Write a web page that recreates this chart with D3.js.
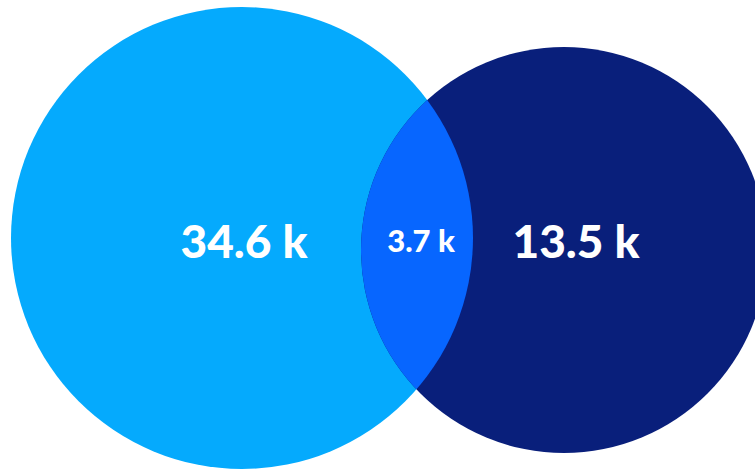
<!DOCTYPE html>
<html>
<head>
<meta charset="utf-8">
<script src="https://cdn.jsdelivr.net/npm/d3@7"></script>
<style>
  html, body { margin: 0; padding: 0; background: #fff; }
  svg { display: block; }
</style>
</head>
<body>
<div id="venn"></div>
<script>
// set sizes (thousands)
const setNames = ["A", "B"];
const onlyValues = [34.6, 13.5];
const overlapValue = 3.7;
const setColors = ["#05aafd", "#091f7b"];
const overlapColor = "#0766ff";

const width = 755, height = 469;

const svg = d3.select("#venn").append("svg")
  .attr("width", width)
  .attr("height", height);

const totals = onlyValues.map(v => v + overlapValue);

// radius from set total
const rScale = d3.scaleLinear()
  .domain(d3.extent(totals).reverse())
  .range([231, 203]);

const rA = rScale(totals[0]);
const rB = rScale(totals[1]);
const overlapDepth = 112; // how far circles cut into each other

const circles = [
  { name: setNames[0], r: rA, cx: 11 + rA, cy: 7 + rA },
  { name: setNames[1], r: rB, cx: 11 + rA + (rA + rB - overlapDepth), cy: 250 }
];

const fmt = v => d3.format(".1f")(v) + " k";

// clip to circle B for the overlap
const defs = svg.append("defs");
defs.append("clipPath")
  .attr("id", "clipB")
  .append("circle")
  .attr("cx", circles[1].cx)
  .attr("cy", circles[1].cy)
  .attr("r", circles[1].r);

svg.selectAll("circle.set")
  .data(circles)
  .enter().append("circle")
  .attr("class", "set")
  .attr("cx", d => d.cx)
  .attr("cy", d => d.cy)
  .attr("r", d => d.r)
  .attr("fill", (d, i) => setColors[i]);

svg.append("circle")
  .attr("cx", circles[0].cx)
  .attr("cy", circles[0].cy)
  .attr("r", circles[0].r)
  .attr("clip-path", "url(#clipB)")
  .attr("fill", overlapColor);

// labels
const lensLeft = circles[1].cx - circles[1].r;
const lensRight = circles[0].cx + circles[0].r;

const labels = [
  { text: fmt(onlyValues[0]), x: circles[0].cx + 2, size: 46 },
  { text: fmt(overlapValue), x: (lensLeft + lensRight) / 2 + 4, size: 31 },
  { text: fmt(onlyValues[1]), x: circles[1].cx + 12, size: 46 }
];

svg.selectAll("text.label")
  .data(labels)
  .enter().append("text")
  .attr("class", "label")
  .attr("x", d => d.x)
  .attr("y", d => d.size > 40 ? 258 : 252)
  .attr("text-anchor", "middle")
  .attr("font-family", "Lato, 'Open Sans', sans-serif")
  .attr("font-weight", 900)
  .attr("font-size", d => d.size)
  .attr("fill", "#fff")
  .text(d => d.text);
</script>
</body>
</html>
